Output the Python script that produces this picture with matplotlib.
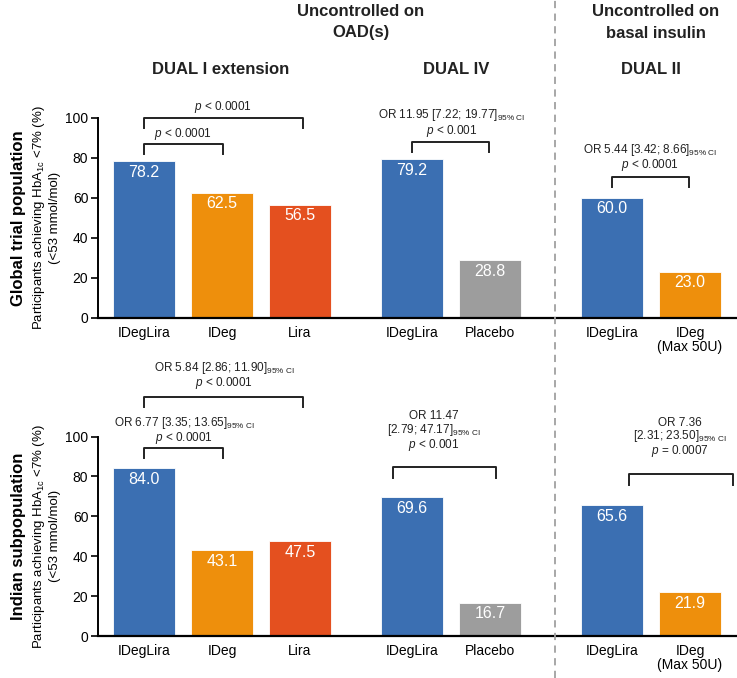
import matplotlib
matplotlib.use('Agg')
from matplotlib import pyplot as plt
from matplotlib.lines import Line2D

plt.rcParams['font.family'] = ['Liberation Sans', 'DejaVu Sans']
plt.rcParams['mathtext.fontset'] = 'custom'
plt.rcParams['mathtext.rm'] = 'Liberation Sans'
plt.rcParams['mathtext.it'] = 'Liberation Sans:italic'
plt.rcParams['mathtext.bf'] = 'Liberation Sans:bold'

# data
trials = ['DUAL I extension', 'DUAL IV', 'DUAL II']
categories = [['IDegLira', 'IDeg', 'Lira'],
              ['IDegLira', 'Placebo'],
              ['IDegLira', 'IDeg\n(Max 50U)']]
global_vals = [[78.2, 62.5, 56.5], [79.2, 28.8], [60.0, 23.0]]
indian_vals = [[84.0, 43.1, 47.5], [69.6, 16.7], [65.6, 21.9]]
row_labels = ['Global trial population', 'Indian subpopulation']

global_notes = [
    # (x1, x2, bracket top, leg, text x, [(text, y), ...])
    (144, 303, 100, 5, 223, [(r'$p$ < 0.0001', 105)]),
    (144, 223, 87, 5, 183, [(r'$p$ < 0.0001', 92)]),
    (412, 489, 88, 5, 452, [(r'OR 11.95 [7.22; 19.77]$_{\mathrm{95\%\ CI}}$', 101),
                            (r'$p$ < 0.001', 93.5)]),
    (612, 689, 70.5, 5, 650, [(r'OR 5.44 [3.42; 8.66]$_{\mathrm{95\%\ CI}}$', 84),
                              (r'$p$ < 0.0001', 76.5)]),
]
indian_notes = [
    (144, 303, 119.7, 4.7, 224, [(r'OR 5.84 [2.86; 11.90]$_{\mathrm{95\%\ CI}}$', 134.5),
                                 (r'$p$ < 0.0001', 126.6)]),
    (144, 223, 94, 5, 184, [(r'OR 6.77 [3.35; 13.65]$_{\mathrm{95\%\ CI}}$', 107),
                            (r'$p$ < 0.0001', 99)]),
    (393, 496, 84.8, 5.6, 434, [('OR 11.47', 110.5),
                                (r'[2.79; 47.17]$_{\mathrm{95\%\ CI}}$', 103.5),
                                (r'$p$ < 0.001', 95.6)]),
    (629, 733, 81.4, 5.5, 680, [('OR 7.36', 107),
                                (r'[2.31; 23.50]$_{\mathrm{95\%\ CI}}$', 100.3),
                                (r'$p$ = 0.0007', 92.6)]),
]

colors = {'IDegLira': '#3b6fb2', 'IDeg': '#ee8f0c', 'IDeg\n(Max 50U)': '#ee8f0c',
          'Lira': '#e4501f', 'Placebo': '#9d9d9d'}

group_start = [144, 412, 612]
step = 78
bar_w = 62
W, H = 737, 678


def draw_panel(ax, values, notes, row_label):
    xs, labels = [], []
    for g, cats in enumerate(categories):
        for i, cat in enumerate(cats):
            x = group_start[g] + i * step
            v = values[g][i]
            ax.bar(x, v, width=bar_w, color=colors[cat], edgecolor='white', linewidth=0.6)
            ax.annotate(f'{v:.1f}', (x, v), xytext=(0, -8), textcoords='offset points',
                        ha='center', va='center', color='white', fontsize=11.5)
            xs.append(x)
            labels.append(cat)

    for x1, x2, top, leg, tx, texts in notes:
        ax.plot([x1, x1, x2, x2], [top - leg, top, top, top - leg],
                color='#222222', lw=1.4, clip_on=False)
        for txt, ty in texts:
            ax.text(tx, ty, txt, ha='center', va='center', fontsize=8.5, color='#222222')

    ax.set_xlim(98, 737)
    ax.set_ylim(0, 100)
    ax.set_yticks(range(0, 101, 20))
    ax.set_xticks(xs)
    ax.set_xticklabels(labels, fontsize=10, linespacing=0.95)
    ax.tick_params(axis='x', length=0, pad=6)
    ax.tick_params(axis='y', length=5, width=1.2, labelsize=10, pad=2)
    for s in ['top', 'right']:
        ax.spines[s].set_visible(False)
    ax.spines['left'].set_linewidth(1.4)
    ax.spines['bottom'].set_linewidth(1.6)

    ax.text(-0.092, 0.5, r'Participants achieving HbA$_{\mathrm{1c}}$ <7% (%)',
            transform=ax.transAxes, rotation=90, ha='center', va='center', fontsize=9.5)
    ax.text(-0.068, 0.5, '(<53 mmol/mol)',
            transform=ax.transAxes, rotation=90, ha='center', va='center', fontsize=9.5)
    ax.text(-0.124, 0.5, row_label, transform=ax.transAxes, rotation=90,
            ha='center', va='center', fontsize=12, fontweight='bold')


fig = plt.figure(figsize=(W / 100, H / 100), dpi=100)
ax1 = fig.add_axes([98 / W, (H - 318) / H, (737 - 98) / W, 200.5 / H])
ax2 = fig.add_axes([98 / W, (H - 636) / H, (737 - 98) / W, 199.5 / H])
draw_panel(ax1, global_vals, global_notes, row_labels[0])
draw_panel(ax2, indian_vals, indian_notes, row_labels[1])

# headers
hdr = dict(ha='center', va='center', fontsize=12, fontweight='bold', color='#222222')
fig.text(361 / W, 1 - 11 / H, 'Uncontrolled on', **hdr)
fig.text(361 / W, 1 - 32 / H, 'OAD(s)', **hdr)
fig.text(656 / W, 1 - 12 / H, 'Uncontrolled on', **hdr)
fig.text(656 / W, 1 - 33 / H, 'basal insulin', **hdr)
for tx, name in zip([221, 456, 651], trials):
    fig.text(tx / W, 1 - 70 / H, name, **hdr)

fig.add_artist(Line2D([555 / W, 555 / W], [0, 1], transform=fig.transFigure,
                      color='#a0a0a0', lw=1.3, linestyle=(0, (4, 3))))

fig.savefig('out.png', dpi=100)
